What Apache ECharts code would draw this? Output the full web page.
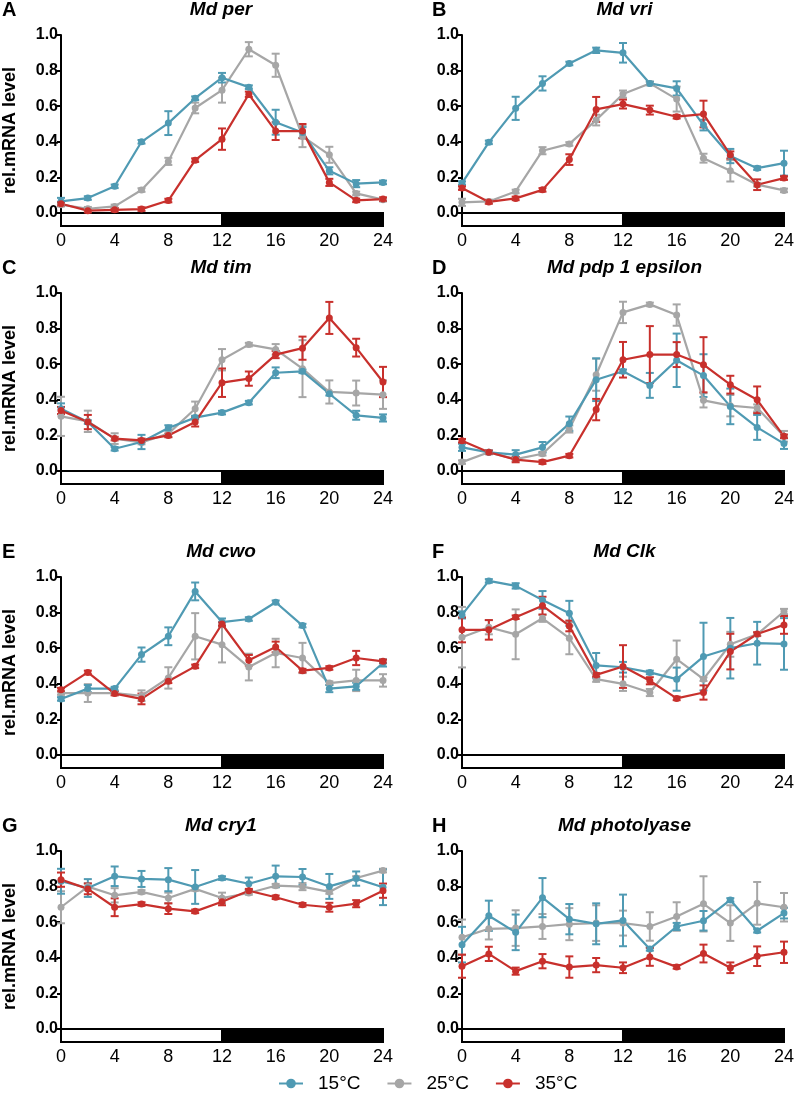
<!DOCTYPE html>
<html>
<head>
<meta charset="utf-8">
<script src="https://cdn.jsdelivr.net/npm/echarts@6/dist/echarts.min.js"></script>
<style>html,body{margin:0;padding:0;background:#fff}#c{width:797px;height:1096px}</style>
</head>
<body>
<div id="c"></div>
<script>
const hours = [0,2,4,6,8,10,12,14,16,18,20,22,24];
const yTicks = [0,0.2,0.4,0.6,0.8,1.0];
const tempNames = ['15°C','25°C','35°C'];
const panelLetters = ['A','B','C','D','E','F','G','H'];
const panelTitles = ['Md per','Md vri','Md tim','Md pdp 1 epsilon','Md cwo','Md Clk','Md cry1','Md photolyase'];
const lightDark = [[0,12,0],[12,24,1]];

const per15 = [0.065,0.084,0.15,0.40,0.505,0.645,0.76,0.707,0.51,0.452,0.237,0.165,0.172];
const per15e = [0.02,0.01,0.01,0.01,0.067,0.01,0.027,0.01,0.07,0.03,0.02,0.02,0.01];
const per25 = [0.047,0.024,0.037,0.129,0.29,0.59,0.69,0.92,0.83,0.43,0.327,0.11,0.075];
const per25e = [0.01,0.01,0.01,0.01,0.02,0.03,0.07,0.04,0.065,0.06,0.045,0.01,0.01];
const per35 = [0.052,0.013,0.018,0.022,0.07,0.297,0.415,0.667,0.46,0.46,0.172,0.071,0.078];
const per35e = [0.01,0.01,0.01,0.01,0.01,0.01,0.06,0.015,0.05,0.04,0.02,0.01,0.01];

const vri15 = [0.168,0.397,0.588,0.728,0.84,0.914,0.90,0.728,0.70,0.494,0.32,0.252,0.28];
const vri15e = [0.01,0.01,0.065,0.04,0.01,0.015,0.055,0.01,0.04,0.03,0.04,0.01,0.07];
const vri25 = [0.06,0.065,0.121,0.35,0.388,0.522,0.668,0.728,0.64,0.308,0.237,0.159,0.127];
const vri25e = [0.02,0.01,0.01,0.02,0.01,0.03,0.02,0.01,0.07,0.025,0.06,0.01,0.01];
const vri35 = [0.14,0.062,0.082,0.13,0.30,0.582,0.612,0.578,0.541,0.556,0.326,0.159,0.196];
const vri35e = [0.01,0.01,0.01,0.01,0.03,0.07,0.025,0.025,0.01,0.075,0.02,0.03,0.01];

const tim15 = [0.35,0.275,0.125,0.163,0.242,0.30,0.328,0.384,0.552,0.56,0.434,0.313,0.298];
const tim15e = [0.03,0.01,0.01,0.04,0.015,0.01,0.01,0.01,0.03,0.01,0.01,0.025,0.02];
const tim25 = [0.307,0.279,0.182,0.16,0.21,0.35,0.625,0.71,0.683,0.575,0.444,0.438,0.429];
const tim25e = [0.11,0.06,0.03,0.01,0.02,0.04,0.06,0.01,0.03,0.16,0.065,0.07,0.08];
const tim35 = [0.34,0.275,0.182,0.172,0.20,0.275,0.496,0.519,0.654,0.69,0.86,0.693,0.50];
const tim35e = [0.02,0.04,0.01,0.01,0.01,0.025,0.08,0.04,0.02,0.065,0.09,0.05,0.085];

const pdp15 = [0.133,0.105,0.092,0.133,0.266,0.513,0.56,0.481,0.622,0.536,0.363,0.245,0.154];
const pdp15e = [0.02,0.01,0.025,0.03,0.04,0.12,0.01,0.07,0.15,0.12,0.1,0.07,0.03];
const pdp25 = [0.05,0.105,0.067,0.097,0.236,0.541,0.891,0.936,0.876,0.397,0.367,0.354,0.195];
const pdp25e = [0.01,0.01,0.01,0.01,0.02,0.09,0.06,0.01,0.06,0.04,0.06,0.02,0.03];
const pdp35 = [0.17,0.105,0.064,0.05,0.086,0.345,0.625,0.654,0.654,0.597,0.485,0.40,0.195];
const pdp35e = [0.01,0.01,0.015,0.01,0.01,0.06,0.10,0.16,0.07,0.155,0.05,0.075,0.01];

const cwo15 = [0.315,0.373,0.373,0.564,0.667,0.919,0.747,0.764,0.858,0.727,0.373,0.386,0.517];
const cwo15e = [0.01,0.02,0.01,0.04,0.05,0.05,0.02,0.01,0.01,0.01,0.02,0.02,0.02];
const cwo25 = [0.348,0.348,0.348,0.333,0.433,0.667,0.62,0.494,0.573,0.545,0.404,0.419,0.419];
const cwo25e = [0.01,0.05,0.01,0.03,0.06,0.13,0.1,0.075,0.08,0.085,0.01,0.06,0.035];
const cwo35 = [0.367,0.464,0.345,0.315,0.414,0.498,0.736,0.532,0.607,0.474,0.489,0.545,0.526];
const cwo35e = [0.01,0.01,0.01,0.03,0.01,0.01,0.01,0.03,0.03,0.01,0.01,0.04,0.01];

const clk15 = [0.787,0.978,0.95,0.871,0.796,0.503,0.493,0.464,0.426,0.553,0.60,0.628,0.624];
const clk15e = [0.02,0.01,0.015,0.05,0.07,0.07,0.03,0.01,0.065,0.19,0.17,0.12,0.145];
const clk25 = [0.662,0.718,0.678,0.768,0.656,0.426,0.40,0.351,0.538,0.426,0.622,0.678,0.806];
const clk25e = [0.17,0.04,0.14,0.02,0.09,0.015,0.04,0.02,0.105,0.01,0.07,0.01,0.015];
const clk35 = [0.703,0.703,0.774,0.839,0.725,0.45,0.497,0.417,0.318,0.351,0.581,0.68,0.731];
const clk35e = [0.07,0.055,0.01,0.05,0.03,0.01,0.12,0.02,0.01,0.04,0.1,0.01,0.05];

const cry15 = [0.83,0.792,0.858,0.843,0.839,0.798,0.848,0.816,0.858,0.854,0.801,0.845,0.796];
const cry15e = [0.07,0.05,0.055,0.045,0.065,0.095,0.01,0.035,0.06,0.045,0.07,0.04,0.1];
const cry25 = [0.684,0.80,0.751,0.77,0.736,0.787,0.736,0.764,0.805,0.80,0.77,0.848,0.89];
const cry25e = [0.09,0.02,0.04,0.01,0.03,0.01,0.03,0.01,0.01,0.02,0.01,0.01,0.01];
const cry35 = [0.839,0.787,0.684,0.702,0.676,0.661,0.715,0.777,0.74,0.698,0.684,0.704,0.777];
const cry35e = [0.04,0.03,0.05,0.01,0.03,0.01,0.02,0.01,0.01,0.01,0.025,0.02,0.04];

const pho15 = [0.474,0.636,0.543,0.738,0.617,0.591,0.61,0.45,0.576,0.608,0.725,0.552,0.651];
const pho15e = [0.1,0.085,0.1,0.11,0.085,0.115,0.145,0.01,0.02,0.055,0.01,0.01,0.03];
const pho25 = [0.515,0.563,0.567,0.576,0.589,0.595,0.595,0.576,0.632,0.703,0.595,0.706,0.684];
const pho25e = [0.1,0.06,0.1,0.07,0.09,0.1,0.07,0.08,0.08,0.155,0.1,0.12,0.08];
const pho35 = [0.353,0.422,0.325,0.381,0.348,0.359,0.344,0.405,0.349,0.424,0.344,0.409,0.431];
const pho35e = [0.065,0.04,0.02,0.04,0.06,0.04,0.03,0.05,0.01,0.05,0.03,0.055,0.06];

const panelData = [
  [[per15,per15e],[per25,per25e],[per35,per35e]],
  [[vri15,vri15e],[vri25,vri25e],[vri35,vri35e]],
  [[tim15,tim15e],[tim25,tim25e],[tim35,tim35e]],
  [[pdp15,pdp15e],[pdp25,pdp25e],[pdp35,pdp35e]],
  [[cwo15,cwo15e],[cwo25,cwo25e],[cwo35,cwo35e]],
  [[clk15,clk15e],[clk25,clk25e],[clk35,clk35e]],
  [[cry15,cry15e],[cry25,cry25e],[cry35,cry35e]],
  [[pho15,pho15e],[pho25,pho25e],[pho35,pho35e]]
];

const colors = ['#4f9ab3','#a6a6a6','#c8302c'];
const drawOrder = [1,0,2];
const FONT = "'Liberation Sans', Arial, Helvetica, sans-serif";
const YMIN = -0.073;
const colLeft = [59, 462];
const colWidth = [324, 325];
const rowTop = [35, 293, 577, 851];
const plotH = 178 * (1 - YMIN);

const grids = [], xAxes = [], yAxes = [], series = [], graphics = [];
const errSeries = [];
for (let i = 0; i < 8; i++) {
  const col = i % 2, row = Math.floor(i / 2);
  grids.push({left: colLeft[col], top: rowTop[row], width: colWidth[col], height: plotH, containLabel: false});
  xAxes.push({
    type: 'value', gridIndex: i, min: 0, max: 24, interval: 4,
    axisLine: {show: false}, axisTick: {show: false}, splitLine: {show: false},
    axisLabel: {color: '#000', fontFamily: FONT, fontSize: 18, margin: 6}
  });
  yAxes.push({
    type: 'value', gridIndex: i, min: YMIN, max: 1,
    name: col === 0 ? 'rel.mRNA level' : '', nameLocation: 'middle', nameGap: 42,
    nameTextStyle: {color: '#000', fontFamily: FONT, fontSize: 18, fontWeight: 'bold'},
    axisLine: {show: true, lineStyle: {color: '#000', width: 2}},
    axisTick: {show: true, length: 4, customValues: yTicks, lineStyle: {color: '#000', width: 2}},
    axisLabel: {color: '#000', fontFamily: FONT, fontSize: 16, fontWeight: 'bold', margin: 3,
      customValues: yTicks, formatter: v => v.toFixed(1)},
    splitLine: {show: false}
  });
  // light/dark bar
  series.push({
    type: 'custom', xAxisIndex: i, yAxisIndex: i, z: 1, silent: true,
    data: lightDark,
    renderItem: function (params, api) {
      const p1 = api.coord([api.value(0), 0]);
      const p2 = api.coord([api.value(1), YMIN]);
      const dark = api.value(2) === 1;
      return {type: 'rect', shape: {x: p1[0], y: p1[1], width: p2[0] - p1[0], height: p2[1] - p1[1]},
        style: {fill: dark ? '#000' : '#fff', stroke: '#000', lineWidth: 2}};
    }
  });
  for (const k of drawOrder) {
    const vals = panelData[i][k][0], errs = panelData[i][k][1];
    series.push({
      type: 'line', name: tempNames[k], xAxisIndex: i, yAxisIndex: i, z: 3,
      data: hours.map((h, j) => [h, vals[j]]),
      symbol: 'circle', symbolSize: 7, showSymbol: true,
      lineStyle: {color: colors[k], width: 2.2}, itemStyle: {color: colors[k]},
      emphasis: {disabled: true}, animation: false
    });
    errSeries.push({
      type: 'custom', xAxisIndex: i, yAxisIndex: i, z: 3, silent: true,
      data: hours.map((h, j) => [h, vals[j], errs[j]]),
      renderItem: (function (color) {
        return function (params, api) {
          const x = api.value(0), y = api.value(1), e = api.value(2);
          const top = api.coord([x, y + e]), bot = api.coord([x, y - e]);
          const w = 4;
          const st = {stroke: color, lineWidth: 2};
          return {type: 'group', children: [
            {type: 'line', shape: {x1: top[0], y1: top[1], x2: bot[0], y2: bot[1]}, style: st},
            {type: 'line', shape: {x1: top[0] - w, y1: top[1], x2: top[0] + w, y2: top[1]}, style: st},
            {type: 'line', shape: {x1: bot[0] - w, y1: bot[1], x2: bot[0] + w, y2: bot[1]}, style: st}
          ]};
        };
      })(colors[k])
    });
  }
  const cx = colLeft[col] + colWidth[col] / 2;
  const ty = rowTop[row] - 25;
  graphics.push({type: 'text', x: cx, y: ty, style: {text: panelTitles[i], textAlign: 'center', textVerticalAlign: 'middle',
    font: "italic bold 19px 'Liberation Sans', Arial, sans-serif", fill: '#000'}});
  graphics.push({type: 'text', x: col === 0 ? 2 : 432, y: ty, style: {text: panelLetters[i], textAlign: 'left', textVerticalAlign: 'middle',
    font: "bold 20px 'Liberation Sans', Arial, sans-serif", fill: '#000'}});
}

const chart = echarts.init(document.getElementById('c'), null, {renderer: 'canvas'});
chart.setOption({
  animation: false,
  backgroundColor: '#fff',
  grid: grids, xAxis: xAxes, yAxis: yAxes,
  series: series.concat(errSeries),
  legend: {
    data: tempNames, left: 273, top: 1069, itemWidth: 24, itemHeight: 12, itemGap: 26,
    textStyle: {color: '#000', fontFamily: FONT, fontSize: 19, padding: [0, 0, 0, 10]}
  },
  graphic: graphics
});
</script>
</body>
</html>
